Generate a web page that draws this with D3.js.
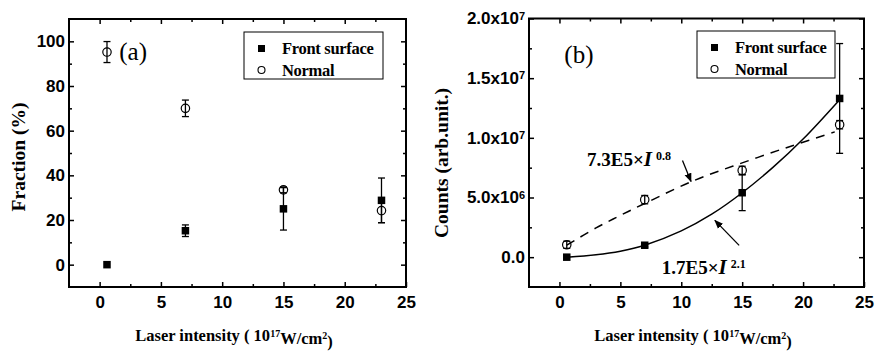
<!DOCTYPE html>
<html>
<head>
<meta charset="utf-8">
<script src="https://cdn.jsdelivr.net/npm/d3@7"></script>
<style>
  body { margin: 0; background: #fff; }
  svg { display: block; }
  .sans { font-family: "Liberation Sans", Arial, sans-serif; font-weight: bold; }
  .serif { font-family: "Liberation Serif", "Times New Roman", serif; }
</style>
</head>
<body>
<script>
// values
var intensity = [0.6, 7, 15, 23];

var fracFront = [0, 15.2, 25, 28.8];
var fracFrontErr = [0, 2.6, 9.5, 10];
var fracNormal = [95.2, 70, 33.5, 24.2];
var fracNormalErr = [4.7, 3.7, 1.3, 5.4];

var countsFront = [0, 1.0e6, 5.4e6, 13.3e6];
var countsFrontErr = [0, 0.15e6, 1.5e6, 4.6e6];
var countsNormal = [1.04e6, 4.82e6, 7.27e6, 11.1e6];
var countsNormalErr = [0.3e6, 0.35e6, 0.35e6, 0.35e6];

// fitted curves as drawn in panel (b)
var fitSolidX = [0.6, 3, 5, 7, 10, 12.5, 15, 17.5, 20, 23];
var fitSolidY = [0, 0.2e6, 0.5e6, 1.0e6, 2.2e6, 3.6e6, 5.4e6, 7.5e6, 9.9e6, 13.2e6];
var fitDashX = [0.6, 3, 5, 7, 11, 15, 19, 22.6];
var fitDashY = [1.0e6, 2.45e6, 3.5e6, 4.5e6, 6.4e6, 7.9e6, 9.3e6, 10.5e6];

var xTicks = [0, 5, 10, 15, 20, 25];
var xMinor = [2.5, 7.5, 12.5, 17.5, 22.5];
var fracTicks = [0, 20, 40, 60, 80, 100];
var fracMinor = [10, 30, 50, 70, 90];
var countTicks = [0, 5e6, 1e7, 1.5e7, 2e7];
var countTickMant = ["0.0", "5.0x10", "1.0x10", "1.5x10", "2.0x10"];
var countTickExp = ["", "6", "7", "7", "7"];
var countMinor = [2.5e6, 7.5e6, 1.25e7, 1.75e7];

var seriesNames = ["Front surface", "Normal"];

var svg = d3.select("body").append("svg")
    .attr("width", 875)
    .attr("height", 351);

var defs = svg.append("defs");
defs.append("marker")
    .attr("id", "arrow")
    .attr("viewBox", "0 0 10 10")
    .attr("refX", 9).attr("refY", 5)
    .attr("markerWidth", 9).attr("markerHeight", 9)
    .attr("markerUnits", "userSpaceOnUse")
    .attr("orient", "auto")
    .append("path")
    .attr("d", "M0,1 L10,5 L0,9 Z")
    .attr("fill", "#000");

function drawPanel(opt) {
  var g = svg.append("g");
  var x = d3.scaleLinear().domain([-2.5, 25]).range([opt.left, opt.right]);
  var y = d3.scaleLinear().domain(opt.yDomain).range([opt.bottom, opt.top]);

  function clean(sel) {
    sel.select(".domain").remove();
    sel.attr("font-size", null).attr("font-family", null);
    sel.selectAll("line").attr("stroke-width", 1.5);
  }

  // major + minor ticks, all four sides, pointing inward
  g.append("g").attr("transform", "translate(0," + opt.bottom + ")")
    .call(d3.axisBottom(x).tickValues(xTicks).tickSizeInner(-5).tickSizeOuter(0).tickPadding(9))
    .call(clean)
    .selectAll("text").attr("class", "sans").style("font-size", "17px");
  g.append("g").attr("transform", "translate(0," + opt.bottom + ")")
    .call(d3.axisBottom(x).tickValues(xMinor).tickSizeInner(-3).tickSizeOuter(0).tickFormat(""))
    .call(clean);
  g.append("g").attr("transform", "translate(0," + opt.top + ")")
    .call(d3.axisTop(x).tickValues(xTicks.slice(0, -1)).tickSizeInner(-5).tickSizeOuter(0).tickFormat(""))
    .call(clean);
  g.append("g").attr("transform", "translate(0," + opt.top + ")")
    .call(d3.axisTop(x).tickValues(xMinor).tickSizeInner(-3).tickSizeOuter(0).tickFormat(""))
    .call(clean);

  var yl = g.append("g").attr("transform", "translate(" + opt.left + ",0)")
    .call(d3.axisLeft(y).tickValues(opt.yTicks).tickSizeInner(-5).tickSizeOuter(0).tickPadding(4))
    .call(clean);
  yl.selectAll("text").attr("class", "sans").style("font-size", "17px")
    .each(function(d, i) {
      if (!opt.yMant) return;
      var t = d3.select(this).text(null);
      t.append("tspan").text(opt.yMant[i]);
      if (opt.yExp[i]) {
        t.append("tspan").attr("dy", "-0.45em").style("font-size", "11px").text(opt.yExp[i]);
      }
    });
  g.append("g").attr("transform", "translate(" + opt.left + ",0)")
    .call(d3.axisLeft(y).tickValues(opt.yMinor).tickSizeInner(-3).tickSizeOuter(0).tickFormat(""))
    .call(clean);
  g.append("g").attr("transform", "translate(" + opt.right + ",0)")
    .call(d3.axisRight(y).tickValues(opt.yTicks).tickSizeInner(-5).tickSizeOuter(0).tickFormat(""))
    .call(clean);
  g.append("g").attr("transform", "translate(" + opt.right + ",0)")
    .call(d3.axisRight(y).tickValues(opt.yMinor).tickSizeInner(-3).tickSizeOuter(0).tickFormat(""))
    .call(clean);

  g.append("rect")
    .attr("x", opt.left).attr("y", opt.top)
    .attr("width", opt.right - opt.left).attr("height", opt.bottom - opt.top)
    .attr("fill", "none").attr("stroke", "#000").attr("stroke-width", 2);

  // curves
  if (opt.curves) {
    opt.curves.forEach(function(c) {
      var pts = c.xs.map(function(v, i) { return [v, c.ys[i]]; });
      g.append("path")
        .attr("d", d3.line().x(function(d) { return x(d[0]); }).y(function(d) { return y(d[1]); })
          .curve(d3.curveCatmullRom.alpha(0.5))(pts))
        .attr("fill", "none").attr("stroke", "#000").attr("stroke-width", 1.5)
        .attr("stroke-dasharray", c.dash || null);
    });
  }

  // error bars
  function errBars(vals, errs) {
    intensity.forEach(function(xi, i) {
      if (!errs[i]) return;
      var cx = x(xi), y0 = y(vals[i] - errs[i]), y1 = y(vals[i] + errs[i]);
      g.append("line").attr("x1", cx).attr("x2", cx).attr("y1", y0).attr("y2", y1)
        .attr("stroke", "#000").attr("stroke-width", 1.3);
      [y0, y1].forEach(function(yy) {
        g.append("line").attr("x1", cx - 3.5).attr("x2", cx + 3.5).attr("y1", yy).attr("y2", yy)
          .attr("stroke", "#000").attr("stroke-width", 1.3);
      });
    });
  }
  errBars(opt.front, opt.frontErr);
  errBars(opt.normal, opt.normalErr);

  g.selectAll(null).data(intensity).enter().append("rect")
    .attr("x", function(d) { return x(d) - 3.75; })
    .attr("y", function(d, i) { return y(opt.front[i]) - 3.75; })
    .attr("width", 7.5).attr("height", 7.5).attr("fill", "#000");
  g.selectAll(null).data(intensity).enter().append("circle")
    .attr("cx", function(d) { return x(d); })
    .attr("cy", function(d, i) { return y(opt.normal[i]); })
    .attr("r", 4.2).attr("fill", "none").attr("stroke", "#000").attr("stroke-width", 1.2);

  // legend
  var lg = g.append("g").attr("transform", "translate(" + opt.legend[0] + "," + opt.legend[1] + ")");
  lg.append("rect").attr("width", opt.legend[2]).attr("height", 47)
    .attr("fill", "#fff").attr("stroke", "#000").attr("stroke-width", 1);
  lg.append("rect").attr("x", 14).attr("y", 13).attr("width", 7).attr("height", 7).attr("fill", "#000");
  lg.append("circle").attr("cx", 17.5).attr("cy", 38).attr("r", 3.5)
    .attr("fill", "none").attr("stroke", "#000").attr("stroke-width", 1.1);
  seriesNames.forEach(function(s, i) {
    lg.append("text").attr("class", "serif").attr("x", 38).attr("y", 22 + i * 21.5)
      .style("font-size", "16.5px").style("font-weight", "bold").style("letter-spacing", "-0.3px").text(s);
  });

  // panel label
  g.append("text").attr("class", "serif")
    .attr("x", x(opt.tag[1])).attr("y", y(opt.tag[2]))
    .style("font-size", "25px").text(opt.tag[0]);

  // axis titles
  var xt = g.append("text").attr("class", "serif")
    .attr("x", opt.xTitleX).attr("y", 341)
    .attr("text-anchor", "middle")
    .style("font-size", "16.5px").style("font-weight", "bold");
  xt.append("tspan").text("Laser intensity ( 10");
  xt.append("tspan").attr("dy", "-0.45em").style("font-size", "10px").text("17");
  xt.append("tspan").attr("dy", "0.45em").text("W/cm");
  xt.append("tspan").attr("dy", "-0.45em").style("font-size", "10px").text("2");
  xt.append("tspan").attr("dy", "0.45em").text(")");

  g.append("text").attr("class", "serif")
    .attr("transform", "translate(" + opt.yTitle[1] + "," + opt.yTitle[2] + ") rotate(-90)")
    .attr("text-anchor", "middle")
    .style("font-size", "19.5px").style("font-weight", "bold")
    .text(opt.yTitle[0]);

  return { g: g, x: x, y: y };
}

drawPanel({
  left: 69, right: 406, top: 19, bottom: 287,
  yDomain: [-10, 110], yTicks: fracTicks, yMinor: fracMinor,
  front: fracFront, frontErr: fracFrontErr,
  normal: fracNormal, normalErr: fracNormalErr,
  legend: [244, 32, 139],
  tag: ["(a)", 1.6, 91.5],
  xTitleX: 234,
  yTitle: ["Fraction (%)", 25, 157]
});

var pb = drawPanel({
  left: 529, right: 864, top: 18.5, bottom: 287,
  yDomain: [-2.5e6, 2e7], yTicks: countTicks, yMinor: countMinor,
  yMant: countTickMant, yExp: countTickExp,
  front: countsFront, frontErr: countsFrontErr,
  normal: countsNormal, normalErr: countsNormalErr,
  legend: [697, 31, 138],
  tag: ["(b)", 0.4, 16.3e6],
  xTitleX: 693,
  yTitle: ["Counts (arb.unit.)", 448, 163],
  curves: [
    { xs: fitSolidX, ys: fitSolidY },
    { xs: fitDashX, ys: fitDashY, dash: "9,7" }
  ]
});

// fit annotations with arrows
var notes = [
  { coef: "7.3E5\u00d7", exp: "0.8", tx: 2.27, ty: 7.6e6, ax: [10.1, 8.1e6], ah: [10.8, 6.34e6] },
  { coef: "1.7E5\u00d7", exp: "2.1", tx: 8.4, ty: -1.38e6, ax: [14.75, 0.99e6], ah: [12.76, 3.08e6] }
];
notes.forEach(function(n) {
  var t = pb.g.append("text").attr("class", "serif")
    .attr("x", pb.x(n.tx)).attr("y", pb.y(n.ty))
    .style("font-size", "19px").style("font-weight", "bold");
  t.append("tspan").text(n.coef);
  t.append("tspan").style("font-style", "italic").style("font-size", "21px").text("I");
  t.append("tspan").attr("dx", 4).attr("dy", "-0.5em").style("font-size", "12px").text(n.exp);
  pb.g.append("line")
    .attr("x1", pb.x(n.ax[0])).attr("y1", pb.y(n.ax[1]))
    .attr("x2", pb.x(n.ah[0])).attr("y2", pb.y(n.ah[1]))
    .attr("stroke", "#000").attr("stroke-width", 1.3)
    .attr("marker-end", "url(#arrow)");
});
</script>
</body>
</html>
